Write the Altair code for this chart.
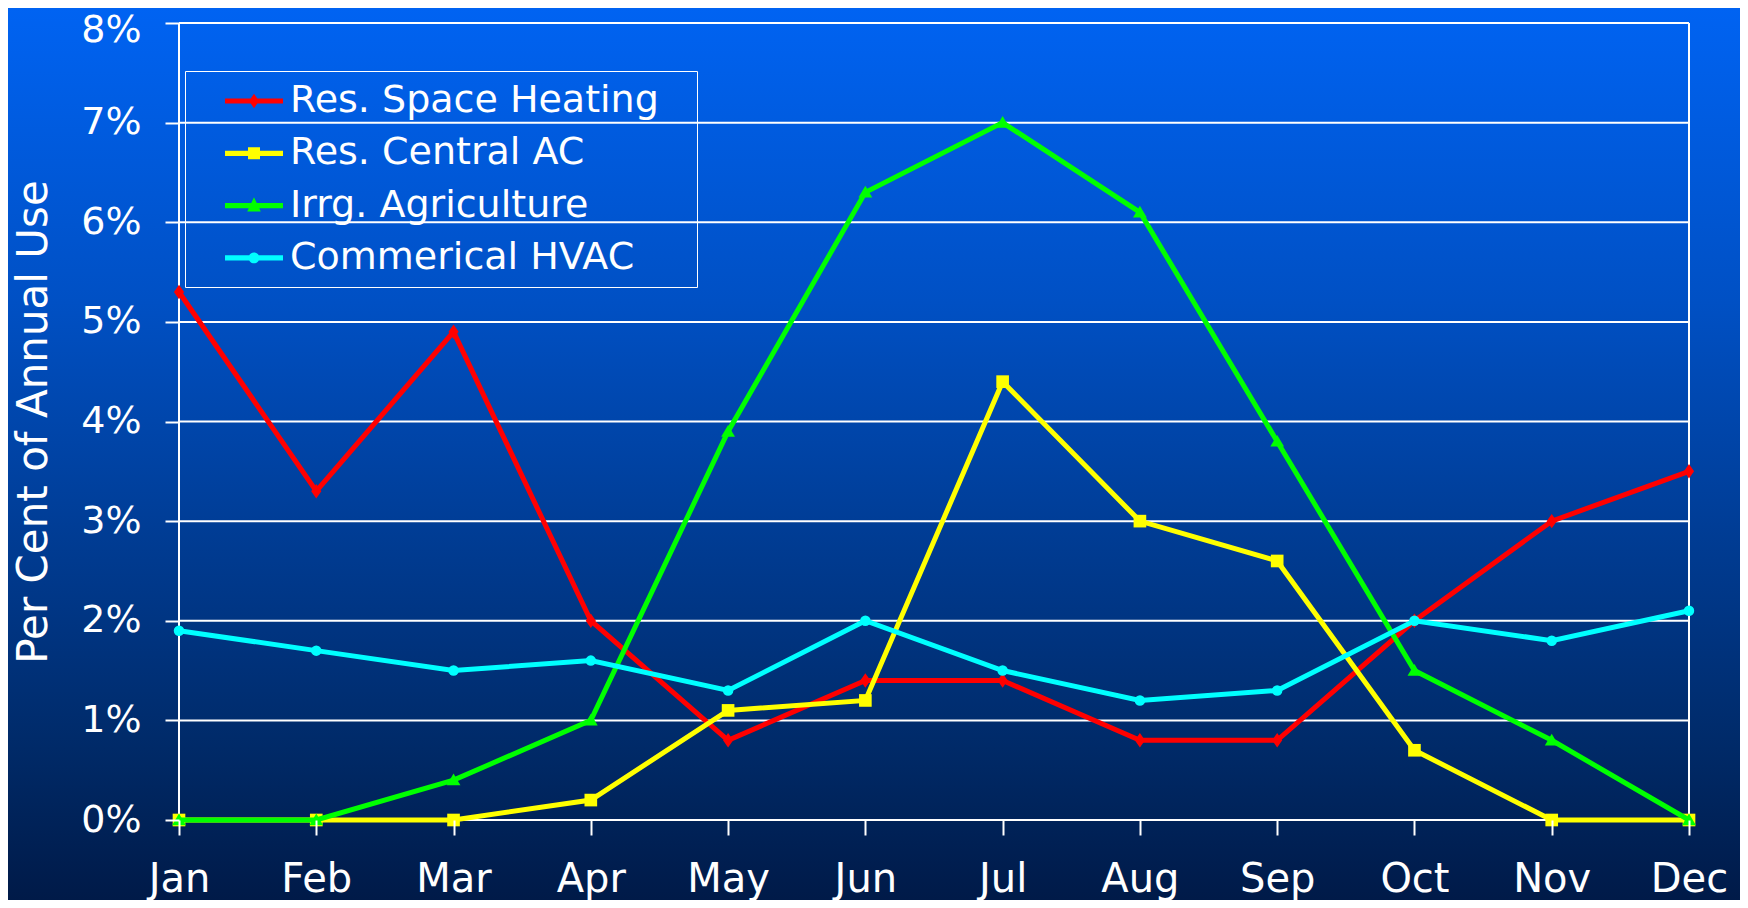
import altair as alt
import pandas as pd

months = ["Jan", "Feb", "Mar", "Apr", "May", "Jun", "Jul", "Aug", "Sep", "Oct", "Nov", "Dec"]
series_names = ["Res. Space Heating", "Res. Central AC", "Irrg. Agriculture", "Commerical HVAC"]
heating = [5.3, 3.3, 4.9, 2.0, 0.8, 1.4, 1.4, 0.8, 0.8, 2.0, 3.0, 3.5]
central_ac = [0.0, 0.0, 0.0, 0.2, 1.1, 1.2, 4.4, 3.0, 2.6, 0.7, 0.0, 0.0]
agriculture = [0.0, 0.0, 0.4, 1.0, 3.9, 6.3, 7.0, 6.1, 3.8, 1.5, 0.8, 0.0]
hvac = [1.9, 1.7, 1.5, 1.6, 1.3, 2.0, 1.5, 1.2, 1.3, 2.0, 1.8, 2.1]
y_ticks = [0, 1, 2, 3, 4, 5, 6, 7, 8]
border_months = ["Jan", "Dec"]

colors = ["#FF0000", "#FFFF00", "#00FF00", "#00FFFF"]
all_values = [heating, central_ac, agriculture, hvac]

rows = []
for name, vals in zip(series_names, all_values):
    for i, (m, v) in enumerate(zip(months, vals)):
        rows.append({"series": name, "month": m, "idx": i, "value": v})
df = pd.DataFrame(rows)
grid_df = pd.DataFrame({"value": y_ticks})
border_df = pd.DataFrame({"month": border_months})

W, H = 1510, 797
PAD = {"left": 171, "top": 15, "right": 51, "bottom": 80}
FONT = "DejaVu Sans"

# marker shapes in plot
marker_paths = [
    "M0,-1 L0.7,0 L0,1 L-0.7,0 Z",          # diamond
    "square",
    "M0,-0.95 L1,0.75 L-1,0.75 Z",          # triangle
    "circle",
]
marker_sizes = [210, 160, 190, 110]

# legend symbols: line segment + marker (unit = 20px)
line_part = "M0.5,-0.13 L3.4,-0.13 L3.4,0.13 L0.5,0.13 Z "
legend_paths = [
    line_part + "M1.95,-0.36 L2.2,0 L1.95,0.36 L1.7,0 Z",
    line_part + "M1.65,-0.3 L2.25,-0.3 L2.25,0.3 L1.65,0.3 Z",
    line_part + "M1.95,-0.42 L2.29,0.3 L1.61,0.3 Z",
    line_part + "M1.68,0 A0.27,0.27 0 1,1 2.22,0 A0.27,0.27 0 1,1 1.68,0 Z",
]

x_axis = alt.Axis(
    title=None, labelAngle=0, labelFont=FONT, labelFontSize=40, labelColor="white",
    labelPadding=24, tickColor="white", tickWidth=2, tickSize=15, domain=False,
    grid=False, zindex=1,
)
y_axis = alt.Axis(
    title="Per Cent of Annual Use", values=y_ticks, labelExpr="datum.value + '%'",
    labelFont=FONT, labelFontSize=38, labelColor="white", labelPadding=24,
    labelOffset={"condition": {"test": "datum.value == 8", "value": 7}, "value": 0},
    tickColor="white", tickWidth=2, tickSize=14, domain=False, grid=False,
    titleFont=FONT, titleFontSize=42, titleFontWeight="normal", titleColor="white",
    titlePadding=25, zindex=1,
)
x_enc = alt.X("month:N", sort=months, scale=alt.Scale(domain=months, type="point", padding=0), axis=x_axis)
y_enc = alt.Y("value:Q", scale=alt.Scale(domain=[0, 8], nice=False, zero=True), axis=y_axis)

bg = alt.Chart(alt.Data(values=[{"a": 1}])).mark_rect(
    fill=alt.Gradient(
        gradient="linear",
        stops=[
            alt.GradientStop(offset=0, color="#0063F2"),
            alt.GradientStop(offset=0.33, color="#0050C4"),
            alt.GradientStop(offset=0.83, color="#002A68"),
            alt.GradientStop(offset=1, color="#001A48"),
        ],
        x1=0, x2=0, y1=0, y2=1,
    )
).encode(
    x=alt.value(-PAD["left"]), x2=alt.value(W + PAD["right"]),
    y=alt.value(-PAD["top"]), y2=alt.value(H + PAD["bottom"]),
)

grid = alt.Chart(grid_df).mark_rule(color="white", strokeWidth=2).encode(y=y_enc)
borders = alt.Chart(border_df).mark_rule(color="white", strokeWidth=2).encode(x=x_enc)

layers = [bg, grid, borders]
for name, c, shp, sz in zip(series_names, colors, marker_paths, marker_sizes):
    base = alt.Chart(df).transform_filter(alt.datum.series == name)
    layers.append(
        base.mark_line(color=c, strokeWidth=5).encode(x=x_enc, y=y_enc, order=alt.Order("idx:Q"))
    )
    layers.append(
        base.mark_point(shape=shp, filled=True, size=sz, color=c, opacity=1, strokeWidth=0).encode(x=x_enc, y=y_enc)
    )

leg = alt.Legend(
    title=None, orient="none", legendX=6, legendY=48,
    labelFont=FONT, labelFontSize=38, labelColor="white", labelLimit=900,
    labelOffset=55, symbolSize=1600, symbolStrokeWidth=0, symbolOpacity=1,
    rowPadding=13.3, padding=10, strokeColor="white",
    labelExpr="datum.label + '\u2800'",
)
legend_layer = alt.Chart(df).transform_filter("datum.value < -100").mark_point(
    filled=True, opacity=1
).encode(
    x=x_enc, y=y_enc,
    color=alt.Color("series:N", scale=alt.Scale(domain=series_names, range=colors), legend=leg),
    shape=alt.Shape("series:N", scale=alt.Scale(domain=series_names, range=legend_paths), legend=leg),
)
layers.append(legend_layer)

chart = alt.layer(*layers).properties(
    width=W, height=H, padding=PAD,
    autosize=alt.AutoSizeParams(type="none"),
).configure_view(stroke=None).configure(background="#001A48")

chart.save("out.html", embed_options={"renderer": "svg", "actions": False})
